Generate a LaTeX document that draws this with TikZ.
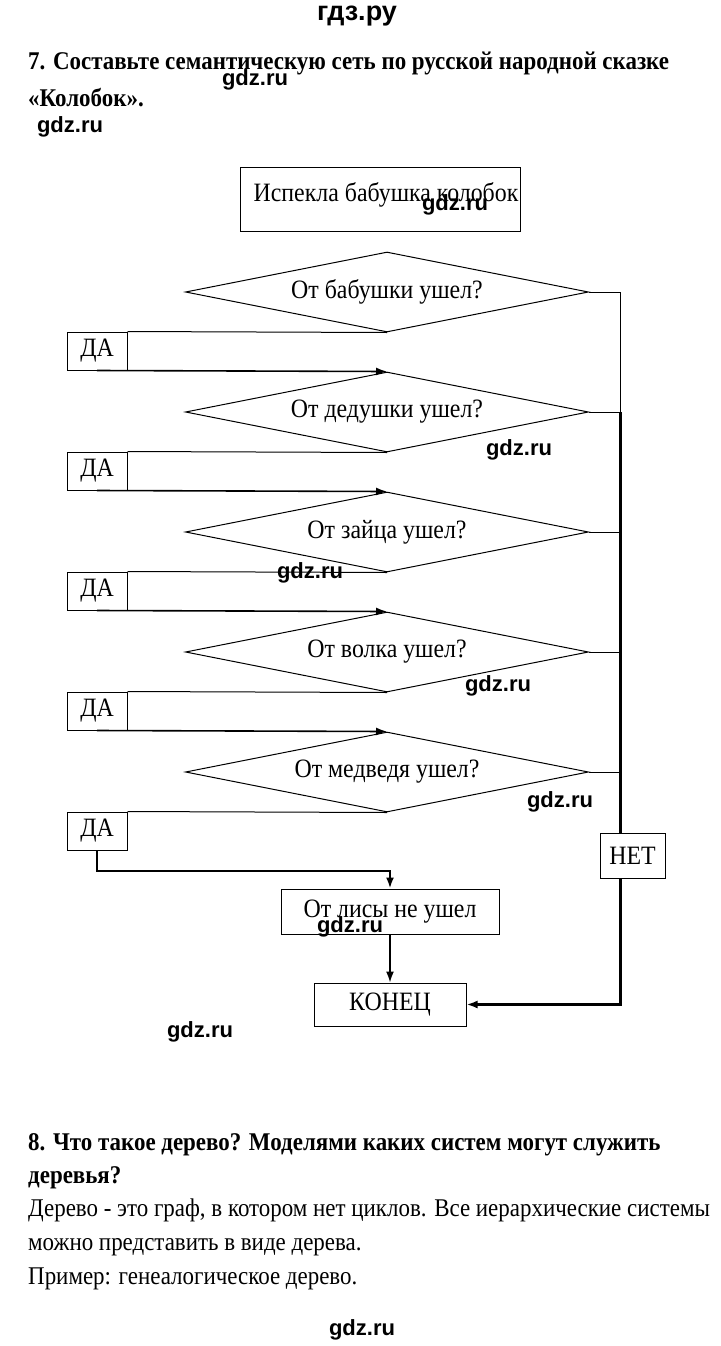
\documentclass[tikz,border=0pt]{standalone}
\usepackage{fontspec}
\setmainfont{Liberation Serif}[FakeStretch=0.9]
\newfontfamily\marquefont{Liberation Sans}
\usetikzlibrary{shapes.geometric, arrows.meta}

\begin{document}
\begin{tikzpicture}[x=1pt, y=-1pt, >={Latex[length=11pt,width=8pt]},
  every node/.style={font=\fontsize{26.5}{30}\selectfont},
  ligne/.style={anchor=base west, inner sep=0pt, font=\fontsize{25.5}{30}\selectfont},
  titre/.style={ligne, font=\fontsize{25.5}{30}\selectfont\bfseries},
  bloc/.style={draw, line width=1pt, fill=white},
  losange/.style={diamond, aspect=5, draw, line width=1pt, minimum width=403pt, minimum height=80pt, inner sep=0pt},
  oui/.style={bloc, minimum width=60pt, minimum height=38pt, inner sep=0pt},
  marque/.style={font=\marquefont\bfseries\fontsize{22}{24}\selectfont, inner sep=0pt}]

% Le fond de la page
\path[fill=white] (0,0) rectangle (720,1346);
\useasboundingbox (0,0) rectangle (720,1346);

% L'en-tête et la question 7
\node[marque, anchor=base, font=\marquefont\bfseries\fontsize{27}{30}\selectfont] (entete) at (357,21) {гдз.ру};
\node[titre] (q7a) at (28,70) {7. Составьте семантическую сеть по русской народной сказке};
\node[titre] (q7b) at (28,106) {«Колобок».};

% Le bloc de départ
\node[bloc, inner sep=0pt, minimum width=280pt, minimum height=64pt] (depart) at (380,199) {\raisebox{14pt}{\hspace{12pt}Испекла бабушка колобок}};

% Les losanges (questions)
\foreach \t [count=\i] in {От бабушки ушел?, От дедушки ушел?, От зайца ушел?, От волка ушел?, От медведя ушел?}
\node[losange] (D\i) at (387, 172+120*\i) {\raisebox{3pt}{\t}};

% Les blocs ДА
\foreach \i in {1,...,5}
\node[oui] (O\i) at (97, 231+120*\i) {ДА};

% Les blocs de fin
\node[bloc, minimum width=218pt, minimum height=45pt] (lisa) at (390,911.5) {\raisebox{3pt}{От лисы не ушел}};
\node[bloc, minimum width=152pt, minimum height=43pt] (fin) at (390,1004.5) {КОНЕЦ};
\coordinate (coin) at (620,1004.5);
\coordinate (virage) at (390,871);

% Les connexions ДА
\foreach \i in {1,...,5}
\draw[line width=1pt] (O\i.north east) -- (D\i.south);
\foreach \i [count=\j from 2] in {1,...,4}
\draw[->, line width=1.6pt] (O\i.south) -- (D\j.north);
\draw[->, line width=2pt] (O5.south) |- (virage) -- (lisa.north);
\draw[->, line width=1.6pt] (lisa.south) -- (fin.north);

% La branche НЕТ
\draw[line width=1pt] (D1.east) -- (D1.east -| coin) -- (D2.east -| coin);
\foreach \i in {2,...,5}
\draw[line width=1pt] (D\i.east) -- (D\i.east -| coin);
\draw[->, line width=3pt] (D2.east -| coin) -- (coin) -- (fin.east);
\node[bloc, minimum width=65pt, minimum height=45pt] (net) at (632.5,855.5) {НЕТ};

% La question 8
\node[titre] (q8a) at (28,1150) {8. Что такое дерево? Моделями каких систем могут служить};
\node[titre] (q8b) at (28,1183) {деревья?};
\node[ligne] (r1) at (28,1216) {Дерево - это граф, в котором нет циклов. Все иерархические системы};
\node[ligne] (r2) at (28,1250) {можно представить в виде дерева.};
\node[ligne] (r3) at (28,1284) {Пример: генеалогическое дерево.};

% Les filigranes
\foreach \x/\y [count=\k] in {255/80, 70/127, 455/205, 519/450, 310/573, 498/686, 560/802, 350/927, 200/1032, 362/1330}
\node[marque] (wm\k) at (\x,\y) {gdz.ru};

\end{tikzpicture}
\end{document}
